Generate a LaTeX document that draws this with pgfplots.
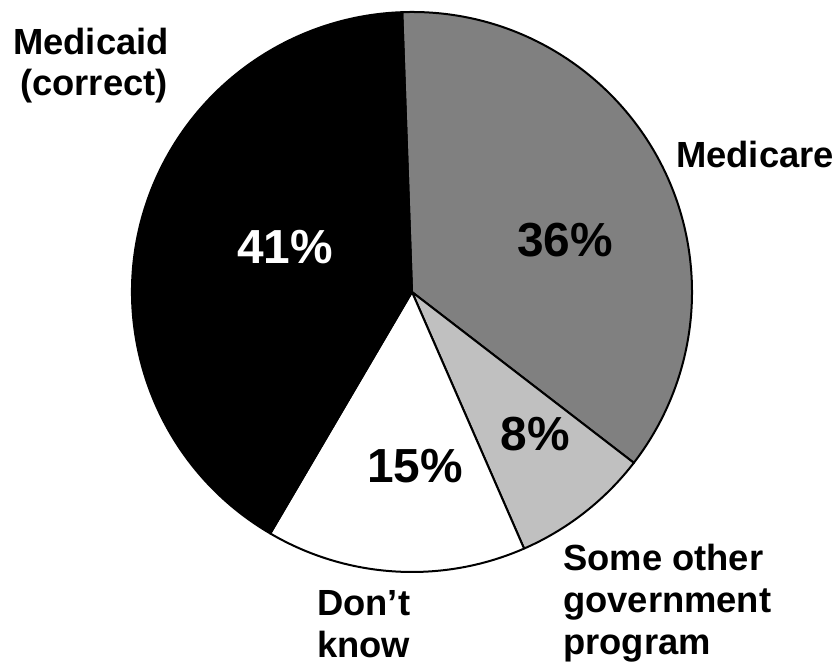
\documentclass[border=0pt]{standalone}
\usepackage{fontspec}
\setmainfont{Liberation Sans}
\usepackage{pgfplots}
\usepackage{pgfplotstable}
\pgfplotsset{compat=1.18}
\definecolor{medicare}{RGB}{128,128,128}
\definecolor{otherprog}{RGB}{192,192,192}
% shares, clockwise from the top: Medicare, Some other government program, Don't know, Medicaid
\pgfplotstableread{
value
36
8
15
41
}\piedata
\pgfplotstablegetelem{0}{value}\of\piedata \let\vA\pgfplotsretval
\pgfplotstablegetelem{1}{value}\of\piedata \let\vB\pgfplotsretval
\pgfplotstablegetelem{2}{value}\of\piedata \let\vC\pgfplotsretval
\pgfplotstablegetelem{3}{value}\of\piedata \let\vD\pgfplotsretval
\pgfmathsetmacro\aA{92}
\pgfmathsetmacro\aB{\aA-3.6*\vA}
\pgfmathsetmacro\aC{\aB-3.6*\vB}
\pgfmathsetmacro\aD{\aC-3.6*\vC}
\pgfmathsetmacro\aE{\aD-3.6*\vD}
\newcommand\lbl{\fontsize{36.5}{40}\selectfont\bfseries}
\newcommand\pct{\fontsize{48}{50}\selectfont\bfseries}
\begin{document}
\begin{tikzpicture}
\begin{axis}[
  scale only axis, width=840bp, height=666bp,
  xmin=0, xmax=840, ymin=-666, ymax=0,
  hide axis, clip=false]
\path (rel axis cs:0,0) rectangle (rel axis cs:1,1);
\fill[medicare, draw=black, line width=2bp, line join=round] (axis cs:412,-292) -- ++(\aA:280bp) arc[start angle=\aA, end angle=\aB, radius=280bp] -- cycle;
\fill[otherprog, draw=black, line width=2bp, line join=round] (axis cs:412,-292) -- ++(\aB:280bp) arc[start angle=\aB, end angle=\aC, radius=280bp] -- cycle;
\fill[white, draw=black, line width=2bp, line join=round] (axis cs:412,-292) -- ++(\aC:280bp) arc[start angle=\aC, end angle=\aD, radius=280bp] -- cycle;
\fill[black, draw=black, line width=2bp, line join=round] (axis cs:412,-292) -- ++(\aD:280bp) arc[start angle=\aD, end angle=\aE, radius=280bp] -- cycle;
% percentages
\node[font=\pct, text=white, anchor=base, inner sep=0pt] at (axis cs:285,-264) {41\%};
\node[font=\pct, text=black, anchor=base, inner sep=0pt] at (axis cs:565,-257) {36\%};
\node[font=\pct, text=black, anchor=base, inner sep=0pt] at (axis cs:535,-450) {8\%};
\node[font=\pct, text=black, anchor=base, inner sep=0pt] at (axis cs:415,-482) {15\%};
% category labels
\node[font=\lbl, anchor=base, inner sep=0pt] at (axis cs:91,-55) {Medicaid};
\node[font=\lbl, anchor=base, inner sep=0pt] at (axis cs:94,-96) {(correct)};
\node[font=\lbl, anchor=base, inner sep=0pt] at (axis cs:755,-168) {Medicare};
\node[font=\lbl, anchor=base west, inner sep=0pt] at (axis cs:317,-615) {Don’t};
\node[font=\lbl, anchor=base west, inner sep=0pt] at (axis cs:317,-657) {know};
\node[font=\lbl, anchor=base west, inner sep=0pt] at (axis cs:563,-570) {Some other};
\node[font=\lbl, anchor=base west, inner sep=0pt] at (axis cs:563,-612) {government};
\node[font=\lbl, anchor=base west, inner sep=0pt] at (axis cs:563,-654) {program};
\end{axis}
\end{tikzpicture}
\end{document}
